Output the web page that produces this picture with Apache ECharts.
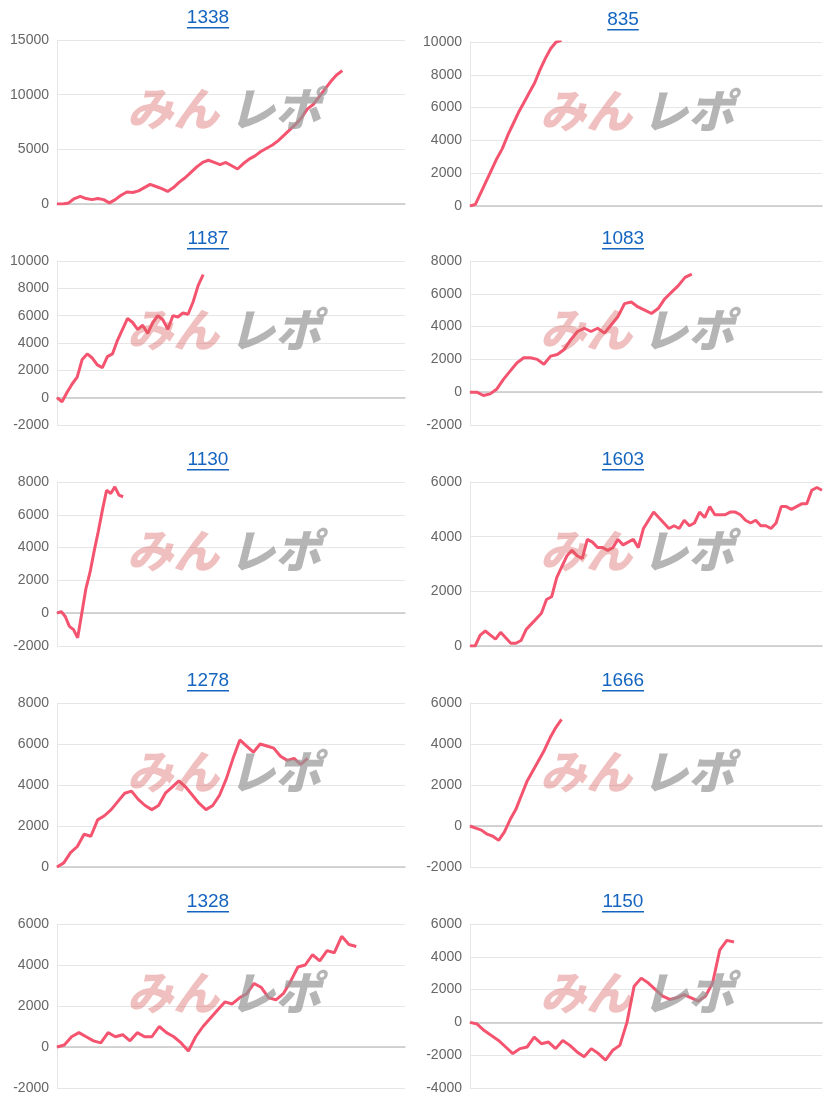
<!DOCTYPE html>
<html><head><meta charset="utf-8">
<script src="https://cdn.jsdelivr.net/npm/echarts@6/dist/echarts.min.js"></script>
<style>html,body{margin:0;padding:0;background:#fff}#c{width:830px;height:1105px}</style>
</head><body><div id="c"></div>
<script>
const titles = ['1338','835','1187','1083','1130','1603','1278','1666','1328','1150'];
const s1338 = [0,0,100,500,700,500,400,500,400,100,400,800,1100,1050,1200,1500,1800,1600,1400,1150,1500,2000,2400,2900,3400,3800,4000,3800,3600,3800,3500,3200,3700,4100,4400,4800,5100,5400,5800,6300,6800,7300,7900,8700,9100,9800,10500,11200,11800,12200];
const s835 = [0,100,800,1500,2200,2900,3500,4300,5000,5700,6300,6900,7500,8300,9000,9600,10000,10100];
const s1187 = [0,-300,400,1000,1500,2800,3200,2900,2400,2200,3000,3200,4200,5000,5800,5500,5000,5300,4700,5500,6000,5700,5000,6000,5900,6200,6100,7000,8200,9000];
const s1083 = [0,0,-200,-100,200,800,1300,1800,2100,2100,2000,1700,2200,2300,2600,3200,3700,3900,3700,3900,3600,4100,4600,5400,5500,5200,5000,4800,5100,5700,6100,6500,7000,7200];
const s1130 = [0,100,-200,-800,-1000,-1500,0,1500,2500,3800,5000,6300,7500,7300,7700,7200,7100];
const s1603 = [0,0,400,550,400,250,500,300,100,100,200,600,800,1000,1200,1700,1800,2500,2900,3300,3500,3300,3200,3900,3800,3600,3600,3500,3600,3900,3700,3800,3900,3600,4300,4600,4900,4700,4500,4300,4400,4300,4600,4400,4500,4900,4700,5100,4800,4800,4800,4900,4900,4800,4600,4500,4600,4400,4400,4300,4500,5100,5100,5000,5100,5200,5200,5700,5800,5700];
const s1278 = [0,200,700,1000,1600,1500,2300,2500,2800,3200,3600,3700,3300,3000,2800,3000,3600,3900,4200,3900,3500,3100,2800,3000,3500,4300,5300,6200,5900,5600,6000,5900,5800,5400,5200,5300,5000,5300];
const s1666 = [0,-100,-200,-400,-500,-700,-300,300,800,1500,2200,2700,3200,3700,4300,4800,5200];
const s1328 = [0,100,500,700,500,300,200,700,500,600,300,700,500,500,1000,700,500,200,-200,500,1000,1400,1800,2200,2100,2400,2600,3100,2900,2400,2300,2600,3200,3900,4000,4500,4200,4700,4600,5400,5000,4900];
const s1150 = [0,-100,-500,-800,-1100,-1500,-1900,-1600,-1500,-900,-1300,-1200,-1600,-1100,-1400,-1800,-2100,-1600,-1900,-2300,-1700,-1400,0,2200,2700,2400,2000,1600,1400,1500,1700,1500,1300,1600,2400,4400,5000,4900];
const series = [s1338,s835,s1187,s1083,s1130,s1603,s1278,s1666,s1328,s1150];
const yMin = [0,0,-2000,-2000,-2000,0,0,-2000,-2000,-4000];
const yMax = [15000,10000,10000,8000,8000,6000,8000,6000,6000,6000];
const yStep = [5000,2000,2000,2000,2000,2000,2000,2000,2000,2000];
const spanFrac = [0.82,0.26,0.42,0.63,0.19,1.0,0.72,0.26,0.86,0.75];

const grids=[],xs=[],ys=[],ss=[],gr=[];
series.forEach((d,i)=>{
  const col=i%2,row=Math.floor(i/2);
  const left=col?470:57, width=col?352:348, top=40+row*221+(col&&row===0?2:0);
  grids.push({left:left,top:top,width:width,height:164});
  xs.push({gridIndex:i,type:'value',min:0,max:(d.length-1)/spanFrac[i],show:true,
    axisLabel:{show:false},axisTick:{show:false},splitLine:{show:false},
    axisLine:{onZero:true,lineStyle:{color:'#c8c8c8',width:1.5}}});
  ys.push({gridIndex:i,type:'value',min:yMin[i],max:yMax[i],interval:yStep[i],
    axisLine:{show:true,lineStyle:{color:'#e6e6e6'}},axisTick:{show:false},
    axisLabel:{color:'#666',fontSize:14,fontFamily:'Liberation Sans, Arial',margin:8,formatter:v=>String(v)},
    splitLine:{lineStyle:{color:'#e6e6e6'}}});
  ss.push({type:'line',xAxisIndex:i,yAxisIndex:i,data:d.map((v,k)=>[k,v]),showSymbol:false,
    lineStyle:{color:'#f4546f',width:3},itemStyle:{color:'#f4546f'},z:3,clip:true});
  const cx=left+width/2-23;
  const tw=titles[i].length*10.5;
  gr.push({type:'text',x:cx,y:top-32,style:{text:titles[i],fontSize:19,fill:'#1565c0',fontFamily:'Liberation Sans, Arial',align:'center'}});
  gr.push({type:'rect',shape:{x:cx-tw/2,y:top-13,width:tw,height:1.5},style:{fill:'#1565c0'}});
  gr.push({type:'text',x:left+70,y:top+46,z:10,style:{text:'みん',fontSize:46,fontWeight:'900',fontStyle:'italic',fill:'rgba(215,90,90,0.38)',fontFamily:'Noto Sans CJK JP'}});
  gr.push({type:'text',x:left+172,y:top+46,z:10,style:{text:'レポ',fontSize:46,fontWeight:'900',fontStyle:'italic',fill:'rgba(150,150,150,0.7)',fontFamily:'Noto Sans CJK JP'}});
});
const ch=echarts.init(document.getElementById('c'));
ch.setOption({animation:false,grid:grids,xAxis:xs,yAxis:ys,series:ss,graphic:gr});
</script></body></html>
